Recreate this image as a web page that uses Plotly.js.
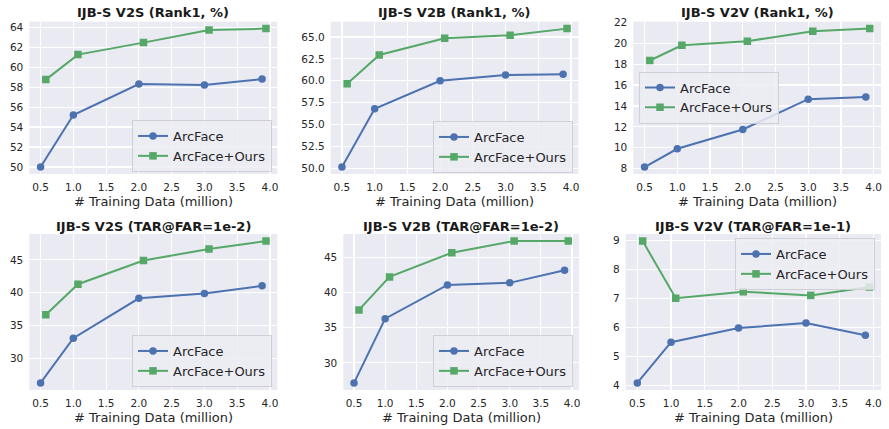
<!DOCTYPE html>
<html>
<head>
<meta charset="utf-8">
<script src="https://cdn.plot.ly/plotly-3.0.1.min.js"></script>
<style>html,body{margin:0;padding:0;background:#fff;}#chart{width:889px;height:429px;}</style>
</head>
<body>
<div id="chart"></div>
<script>
// ---- data ----
const seriesNames = ["ArcFace", "ArcFace+Ours"];
const xArcFace = [0.5, 1.0, 2.0, 3.0, 3.88];
const xOurs = [0.58, 1.07, 2.07, 3.07, 3.94];
const xTicks = [0.5, 1.0, 1.5, 2.0, 2.5, 3.0, 3.5, 4.0];
const panelTitles = [
  "IJB-S V2S (Rank1, %)", "IJB-S V2B (Rank1, %)", "IJB-S V2V (Rank1, %)",
  "IJB-S V2S (TAR@FAR=1e-2)", "IJB-S V2B (TAR@FAR=1e-2)", "IJB-S V2V (TAR@FAR=1e-1)"
];
const v2sRankArc = [50.0, 55.2, 58.3, 58.2, 58.8];
const v2sRankOurs = [58.75, 61.25, 62.45, 63.7, 63.85];
const v2bRankArc = [50.15, 56.8, 60.0, 60.65, 60.75];
const v2bRankOurs = [59.65, 62.95, 64.85, 65.2, 65.95];
const v2vRankArc = [8.15, 9.9, 11.75, 14.65, 14.85];
const v2vRankOurs = [18.35, 19.8, 20.2, 21.15, 21.4];
const v2sTarArc = [26.3, 33.1, 39.15, 39.9, 41.05];
const v2sTarOurs = [36.65, 41.3, 44.9, 46.65, 47.85];
const v2bTarArc = [27.15, 36.3, 41.1, 41.4, 43.2];
const v2bTarOurs = [37.55, 42.25, 45.7, 47.35, 47.35];
const v2vTarArc = [4.08, 5.49, 5.98, 6.15, 5.73];
const v2vTarOurs = [8.99, 7.01, 7.24, 7.11, 7.4];
const yTicks1 = [50, 52, 54, 56, 58, 60, 62, 64];
const yTicks2 = [50.0, 52.5, 55.0, 57.5, 60.0, 62.5, 65.0];
const yTicks3 = [8, 10, 12, 14, 16, 18, 20, 22];
const yTicks4 = [30, 35, 40, 45];
const yTicks5 = [30, 35, 40, 45];
const yTicks6 = [4, 5, 6, 7, 8, 9];

const arcSeries = [v2sRankArc, v2bRankArc, v2vRankArc, v2sTarArc, v2bTarArc, v2vTarArc];
const oursSeries = [v2sRankOurs, v2bRankOurs, v2vRankOurs, v2sTarOurs, v2bTarOurs, v2vTarOurs];
const yTickSets = [yTicks1, yTicks2, yTicks3, yTicks4, yTicks5, yTicks6];
const yTickFormats = ["d", ".1f", "d", "d", "d", "d"];

// ---- layout (pixel geometry) ----
const W = 889, H = 429;
const FONT = "DejaVu Sans";
const TXT = "#262626";
const boxes = [ // [left, right, top, bottom] in px
  [29.3, 277.3, 21.7, 174], [330.7, 578.3, 21.7, 174], [633.3, 881, 21.7, 174],
  [29.3, 277.3, 234, 390], [343.3, 579, 234, 390], [625.7, 881, 234, 390]
];
// legend anchor: [x px, y px (vertical centre), xanchor]
const legendPos = [
  [272, 146, "right"], [573, 147, "right"], [639, 97.5, "left"],
  [272, 361, "right"], [573, 361, "right"], [875, 264, "right"]
];
const titleY = [12, 12, 12, 227, 227, 227];
const xTitleY = [201.7, 201.7, 201.7, 417, 417, 417];

function pad(arr) {
  const mn = Math.min(...arr), mx = Math.max(...arr), s = mx - mn;
  return [mn - 0.05 * s, mx + 0.05 * s];
}
const xRange = pad(xArcFace.concat(xOurs));

const traces = [];
const layout = {
  width: W, height: H,
  margin: {l: 0, r: 0, t: 0, b: 0},
  paper_bgcolor: "#ffffff",
  plot_bgcolor: "#EAEAF2",
  font: {family: FONT, color: TXT, size: 10.5},
  annotations: [],
  showlegend: true
};

for (let i = 0; i < 6; i++) {
  const n = i === 0 ? "" : String(i + 1);
  const [l, r, t, b] = boxes[i];
  const legName = "legend" + n;
  traces.push({
    x: xArcFace, y: arcSeries[i], name: seriesNames[0], type: "scatter", mode: "lines+markers",
    xaxis: "x" + n, yaxis: "y" + n, legend: legName,
    line: {color: "#4C72B0", width: 2},
    marker: {symbol: "circle", size: 7.5, color: "#4C72B0"}
  });
  traces.push({
    x: xOurs, y: oursSeries[i], name: seriesNames[1], type: "scatter", mode: "lines+markers",
    xaxis: "x" + n, yaxis: "y" + n, legend: legName,
    line: {color: "#55A868", width: 2},
    marker: {symbol: "square", size: 7.5, color: "#55A868"}
  });
  const yr = pad(arcSeries[i].concat(oursSeries[i]));
  layout["xaxis" + n] = {
    domain: [l / W, r / W], anchor: "y" + n, range: xRange,
    tickmode: "array", tickvals: xTicks, ticktext: xTicks.map(v => v.toFixed(1)),
    showgrid: true, gridcolor: "#ffffff", gridwidth: 1.2, zeroline: false, showline: false,
    ticks: "", ticklabelstandoff: 5, tickfont: {family: FONT, size: 10.5, color: TXT},
    fixedrange: true
  };
  layout["yaxis" + n] = {
    domain: [1 - b / H, 1 - t / H], anchor: "x" + n, range: yr,
    tickmode: "array", tickvals: yTickSets[i], tickformat: yTickFormats[i],
    showgrid: true, gridcolor: "#ffffff", gridwidth: 1.2, zeroline: false, showline: false,
    ticks: "", ticklabelstandoff: 5, tickfont: {family: FONT, size: 10.5, color: TXT},
    fixedrange: true
  };
  const lp = legendPos[i];
  layout[legName] = {
    x: lp[0] / W, y: 1 - lp[1] / H, xanchor: lp[2], yanchor: "middle",
    xref: "paper", yref: "paper",
    bgcolor: "rgba(236,236,243,0.85)", bordercolor: "rgba(204,204,210,0.9)", borderwidth: 1,
    font: {family: FONT, size: 13, color: TXT},
    tracegroupgap: 0, itemwidth: 30
  };
  layout.annotations.push({
    text: "<b>" + panelTitles[i] + "</b>", xref: "paper", yref: "paper",
    x: (l + r) / 2 / W, y: 1 - titleY[i] / H, xanchor: "center", yanchor: "middle",
    showarrow: false, font: {family: FONT, size: 13, color: "#1a1a1a"}
  });
  layout.annotations.push({
    text: "# Training Data (million)", xref: "paper", yref: "paper",
    x: (l + r) / 2 / W, y: 1 - xTitleY[i] / H, xanchor: "center", yanchor: "middle",
    showarrow: false, font: {family: FONT, size: 13, color: TXT}
  });
}

Plotly.newPlot("chart", traces, layout, {displayModeBar: false, staticPlot: true});
</script>
</body>
</html>
